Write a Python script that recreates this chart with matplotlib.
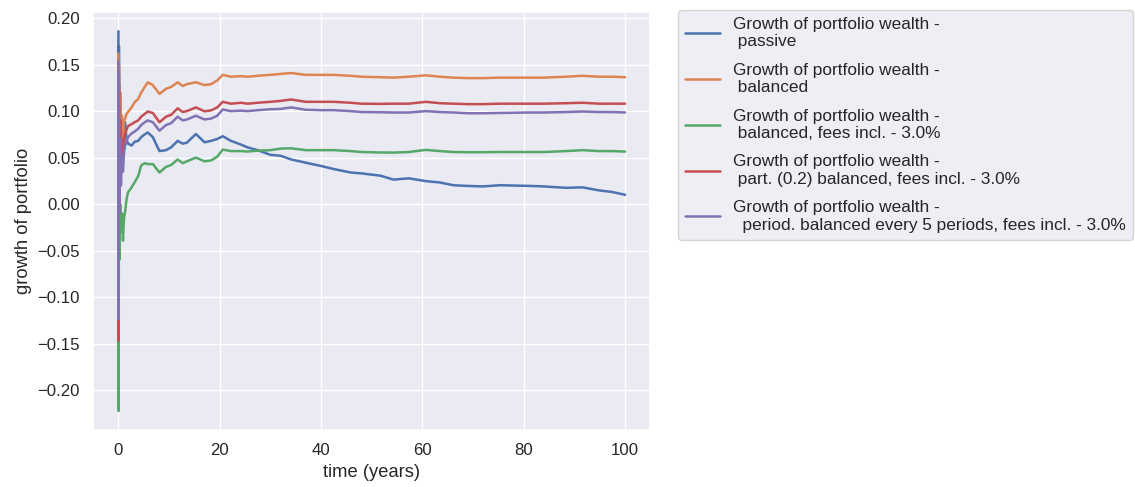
import matplotlib
matplotlib.use("Agg")
import matplotlib.pyplot as plt
import seaborn as sns

# --- data (time in years, growth of portfolio) ---
time_years = [0.0, 0.05, 0.1, 0.2, 0.35, 0.5, 0.7, 0.9, 1.1, 1.3, 1.6, 1.9,
              2.6, 3.2, 3.9, 4.5, 5.2, 5.8, 6.8, 8.1, 9.4, 10.4, 11.7, 12.7,
              13.5, 15.3, 17.0, 18.3, 19.5, 20.6, 22.2, 24.2, 25.5, 27.5,
              30.0, 32.0, 34.1, 37.0, 40.0, 42.5, 45.8, 48.0, 51.7, 54.3,
              57.3, 60.7, 63.5, 66.1, 69.0, 72.0, 75.3, 80.7, 84.0, 88.3,
              91.6, 94.9, 97.5, 100.0]

passive = [0.186, -0.10, 0.17, 0.02, 0.10, 0.04, 0.07, 0.05, 0.075, 0.088,
           0.070, 0.065, 0.063, 0.067, 0.068, 0.072, 0.075, 0.077, 0.072,
           0.057, 0.058, 0.061, 0.068, 0.065, 0.066, 0.0754, 0.0665, 0.068,
           0.070, 0.073, 0.068, 0.064, 0.061, 0.058, 0.053, 0.052, 0.048,
           0.0445, 0.041, 0.0377, 0.034, 0.033, 0.0306, 0.0263, 0.0277,
           0.0247, 0.0232, 0.0203, 0.0195, 0.019, 0.0203, 0.0196, 0.019,
           0.0175, 0.018, 0.0147, 0.013, 0.010]

balanced = [0.162, -0.10, 0.15, 0.06, 0.12, 0.08, 0.095, 0.070, 0.088, 0.092,
            0.097, 0.099, 0.104, 0.1096, 0.113, 0.120, 0.126, 0.131, 0.128,
            0.1185, 0.124, 0.126, 0.131, 0.127, 0.129, 0.131, 0.128, 0.129,
            0.133, 0.139, 0.137, 0.1376, 0.137, 0.138, 0.139, 0.140, 0.141,
            0.139, 0.139, 0.139, 0.138, 0.137, 0.1365, 0.136, 0.137, 0.1385,
            0.137, 0.136, 0.1355, 0.1355, 0.136, 0.136, 0.136, 0.137, 0.138,
            0.137, 0.137, 0.1365]

balanced_fees = [0.14, -0.2226, 0.05, -0.06, 0.0, -0.03, -0.01, -0.0395,
                 -0.015, -0.009, 0.005, 0.0126, 0.018, 0.0234, 0.030, 0.0417,
                 0.044, 0.043, 0.043, 0.034, 0.040, 0.042, 0.048, 0.044,
                 0.046, 0.050, 0.046, 0.047, 0.051, 0.0586, 0.057, 0.057,
                 0.0565, 0.0575, 0.058, 0.0597, 0.060, 0.058, 0.058, 0.058,
                 0.057, 0.056, 0.0555, 0.0554, 0.056, 0.0583, 0.057, 0.056,
                 0.0558, 0.0558, 0.056, 0.056, 0.056, 0.057, 0.058, 0.057,
                 0.057, 0.0565]

partial_balanced = [0.144, -0.147, 0.13, 0.03, 0.09, 0.05, 0.07, 0.056,
                    0.070, 0.075, 0.080, 0.084, 0.086, 0.088, 0.090, 0.094,
                    0.097, 0.0996, 0.098, 0.088, 0.094, 0.096, 0.103, 0.099,
                    0.100, 0.104, 0.0998, 0.1008, 0.104, 0.110, 0.108, 0.109,
                    0.108, 0.109, 0.110, 0.111, 0.1125, 0.110, 0.110, 0.110,
                    0.109, 0.108, 0.1078, 0.108, 0.108, 0.110, 0.1085, 0.108,
                    0.1075, 0.1075, 0.108, 0.108, 0.108, 0.1085, 0.109, 0.108,
                    0.108, 0.108]

periodic_balanced = [0.153, -0.124, 0.14, -0.01, 0.07, 0.02, 0.05, 0.035,
                     0.055, 0.062, 0.068, 0.072, 0.076, 0.078, 0.081, 0.085,
                     0.088, 0.090, 0.088, 0.079, 0.085, 0.087, 0.094, 0.090,
                     0.091, 0.095, 0.091, 0.092, 0.095, 0.1017, 0.100, 0.1005,
                     0.100, 0.101, 0.102, 0.1024, 0.104, 0.1015, 0.101, 0.101,
                     0.100, 0.099, 0.0988, 0.0985, 0.0985, 0.100, 0.099,
                     0.0985, 0.0977, 0.0977, 0.098, 0.0985, 0.0985, 0.099,
                     0.0996, 0.099, 0.099, 0.0985]

labels = [
    "Growth of portfolio wealth -\n passive",
    "Growth of portfolio wealth -\n balanced",
    "Growth of portfolio wealth -\n balanced, fees incl. - 3.0%",
    "Growth of portfolio wealth -\n part. (0.2) balanced, fees incl. - 3.0%",
    "Growth of portfolio wealth -\n  period. balanced every 5 periods, fees incl. - 3.0%",
]

sns.set_theme(font_scale=1.1)
plt.rcParams['font.family'] = ['Liberation Sans', 'DejaVu Sans']

fig = plt.figure(figsize=(11.35, 4.87), dpi=100)
ax = fig.add_axes([0.082, 0.117, 0.491, 0.858])

series = [passive, balanced, balanced_fees, partial_balanced, periodic_balanced]
for values, label in zip(series, labels):
    ax.plot(time_years, values, label=label, linewidth=1.8)

ax.set_xlabel("time (years)")
ax.set_ylabel("growth of portfolio")
ax.legend(bbox_to_anchor=(1.05, 1.005), loc="upper left", borderaxespad=0.0,
          fontsize=12.4, labelspacing=0.78)

fig.savefig("out.png", dpi=100)
